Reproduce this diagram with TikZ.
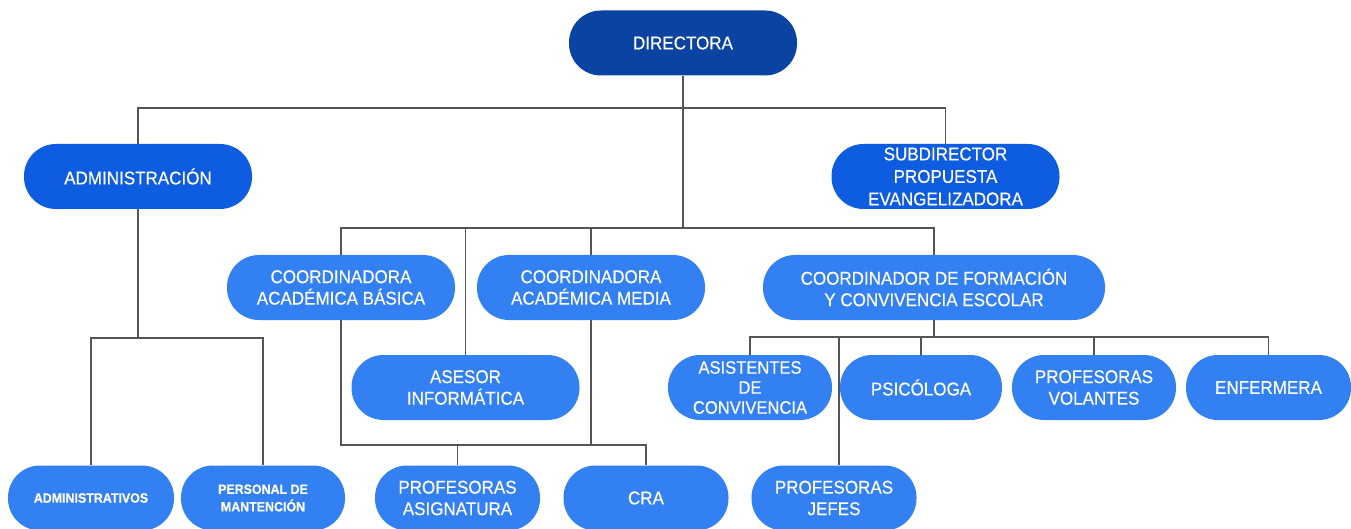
\documentclass[tikz,border=0pt]{standalone}
\usepackage{fontspec}
\setmainfont[FakeStretch=0.92,FakeBold=0.35]{Liberation Sans}
\definecolor{cdark}{HTML}{0B43A2}
\definecolor{cmid}{HTML}{0E5DE0}
\definecolor{clight}{HTML}{3380F3}
\definecolor{cline}{HTML}{555555}
\begin{document}
\begin{tikzpicture}[x=1pt,y=-1pt,
  box/.style={rounded corners=32pt, text=white, align=center, inner sep=0pt,
    minimum height=65pt, font=\fontsize{18.5}{21.5}\selectfont},
  wbox/.style={box, minimum width=228pt},
  nbox/.style={box, minimum width=165pt},
  small/.style={font=\fontsize{13.5}{17.5}\selectfont\bfseries},
  conn/.style={draw=cline, line width=1.4pt}]
\useasboundingbox (0,0) rectangle (1351,529);
\clip (0,0) rectangle (1351,529);
% level 0
\node[wbox, fill=cdark] (dir) at (683,43) {DIRECTORA};
% level 1
\node[wbox, fill=cmid] (adm) at (138,176.5) {ADMINISTRACIÓN};
\node[wbox, fill=cmid, font=\fontsize{18.5}{22.5}\selectfont] (sub) at (945.5,176.5) {SUBDIRECTOR\\PROPUESTA\\EVANGELIZADORA};
% level 2
\node[wbox, fill=clight] (cab) at (341,287.5) {COORDINADORA\\ACADÉMICA BÁSICA};
\node[wbox, fill=clight] (cam) at (591,287.5) {COORDINADORA\\ACADÉMICA MEDIA};
\node[box, minimum width=342pt, fill=clight] (cf) at (934,287.5) {COORDINADOR DE FORMACIÓN\\Y CONVIVENCIA ESCOLAR};
% level 3
\node[wbox, fill=clight] (ase) at (465.5,387.5) {ASESOR\\INFORMÁTICA};
\node[nbox, minimum width=164pt, fill=clight, font=\fontsize{18}{20}\selectfont] (asi) at (750,387.5) {ASISTENTES\\DE\\CONVIVENCIA};
\node[nbox, minimum width=162pt, fill=clight] (psi) at (921,387.5) {PSICÓLOGA};
\node[nbox, minimum width=164pt, fill=clight] (vol) at (1094,387.5) {PROFESORAS\\VOLANTES};
\node[nbox, minimum width=165pt, fill=clight] (enf) at (1268.5,387.5) {ENFERMERA};
% level 4
\node[nbox, minimum width=166pt, fill=clight, small] (ad1) at (91,498) {ADMINISTRATIVOS};
\node[nbox, minimum width=164pt, fill=clight, small] (ad2) at (263,498) {PERSONAL DE\\MANTENCIÓN};
\node[nbox, fill=clight] (pa) at (457.5,498) {PROFESORAS\\ASIGNATURA};
\node[nbox, fill=clight] (cra) at (646,498) {CRA};
\node[nbox, fill=clight] (jef) at (834,498) {PROFESORAS\\JEFES};
% junctions
\coordinate (j1) at (683,108);
\coordinate (j2) at (683,228);
\coordinate (j3) at (138,338);
\coordinate (j4) at (341,445);
\coordinate (j5) at (934,337);
\coordinate (j6) at (839,337);
% connectors
\draw[conn] (dir.south) -- (j2);
\draw[conn] (adm.north) |- (j1) -| (sub.north);
\draw[conn] (cab.north) |- (j2) -| (cf.north);
\draw[conn] (cam.north) -- (cam.north |- j2);
\draw[conn] (ase.north) -- (ase.north |- j2);
\draw[conn] (adm.south) -- (j3);
\draw[conn] (ad1.north) |- (j3) -| (ad2.north);
\draw[conn] (cab.south) -- (j4) -| (cra.north);
\draw[conn] (cam.south) -- (cam.south |- j4);
\draw[conn] (pa.north) -- (pa.north |- j4);
\draw[conn] (cf.south) -- (j5);
\draw[conn] (asi.north) |- (j5) -| (enf.north);
\draw[conn] (psi.north) -- (psi.north |- j5);
\draw[conn] (vol.north) -- (vol.north |- j5);
\draw[conn] (j6) -- (j6 |- jef.north);
\end{tikzpicture}
\end{document}
